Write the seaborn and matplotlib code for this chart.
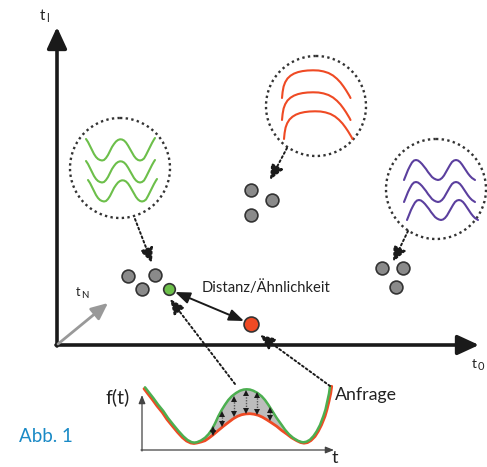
import numpy as np
import pandas as pd
import matplotlib
matplotlib.use("Agg")
import matplotlib.pyplot as plt
import matplotlib.patches as mpatches
import seaborn as sns

# diagram values, all in pixel units of the 487x467 picture
grey_dots_x = [128, 155, 142, 251, 272, 251, 382, 403, 396]
grey_dots_y = [276, 275, 289, 190, 200, 215, 268, 268, 287]
match_dot = (169, 289)
query_dot = (251, 324)

circle_centers = [(120, 168), (316, 106), (436, 189)]
circle_radius = 50

# wave icon shapes (relative to the start point of each line)
w_dx = [0, 2, 4, 6, 8, 10, 12, 14, 16, 18, 20, 22, 24, 26, 28, 30, 32, 34,
        36, 38, 40, 42, 44, 46, 48, 50, 52, 54, 56, 58, 60, 62, 64, 66, 68, 69]
w_dy = [0, 3, 7, 11, 15, 18, 20, 21, 21.5, 21, 19, 16, 12, 8, 5, 2.5, 1, 0.3,
        0.5, 1.5, 3.5, 6.5, 10, 13.5, 17, 19.5, 21, 21.5, 21, 19.5, 16, 12, 8, 4, 0.5, -1]
green_starts = [(86, 139), (86, 161), (88, 180)]

m_dx = [0, 2, 4, 6, 8, 10, 12, 14, 16, 18, 20, 22, 24, 26, 28, 30, 32, 34,
        36, 38, 40, 42, 44, 46, 48, 50, 52, 54, 56, 58, 60, 62, 64, 66, 68, 71]
m_dy = [0, -5, -10, -14, -17.5, -19.5, -20, -19.5, -18, -16, -13.5, -11, -8, -5.5,
        -3, -1.5, -0.5, 0, -0.5, -2, -4.5, -8, -11.5, -15, -18, -19.5, -20, -19.5,
        -18, -15.5, -12.5, -9.5, -6.5, -4, -2, 0]
purple_starts = [(404, 180), (404, 202), (407, 220)]

arc_dx = [0, 0.6, 1.6, 3.2, 5.5, 8.5, 12, 16, 20.5, 25.5, 31, 36.5, 41.5, 46.5,
          51, 55, 58.5, 61.5, 64, 66, 67.5, 68.5]
arc_dy = [0, -6, -11.5, -15.8, -19.5, -22.3, -24.4, -25.9, -26.9, -27.5, -27.7,
          -27.5, -26.6, -25, -22.5, -19.2, -15.5, -11.5, -7.8, -4.5, -2, 0]
red_starts = [(282, 98), (282, 120), (284, 139)]

dotted_from = [(135, 219), (287, 148), (408, 231), (235, 384), (330, 386)]
dotted_to = [(152, 263), (270, 180), (393, 262), (170, 299), (260, 335)]

# query curve (red) and best match (green) in the small plot
green_x = [145, 149, 153.3, 158, 163.3, 168, 173.3, 178.5, 183.3, 187.5,
           191.7, 194.5, 197, 201, 205, 208.5, 211.7, 215, 218.3, 221.7,
           225, 228.3, 231.7, 236, 240, 243.5, 246.7, 250, 253.3, 257.5,
           261.7, 265, 268.3, 272.5, 276.7, 281, 285, 289, 293.3, 298,
           301.5, 303.3, 306.5, 310, 313.5, 316.7, 320, 323.3, 325.5, 327.3,
           329, 330]
green_y = [387.3, 392.5, 398, 404.5, 411, 418, 424.7, 431, 436.3, 440,
           442.2, 442.6, 442.2, 440.5, 437.8, 434.2, 429.7, 423.5, 416.3, 410,
           404.7, 400, 396.3, 393, 390.7, 389.6, 389.3, 389.6, 390.7, 393,
           396.3, 400, 404.7, 411.3, 418, 424, 429.7, 434.3, 438, 440.8,
           442, 442.3, 441.7, 439.7, 436, 431.3, 425, 416.3, 409.5, 401.3,
           393.5, 386.3]
red_x = [144, 148, 152.3, 157, 162.3, 167, 172.3, 177.5, 182.3, 186.5,
         190.7, 194, 197, 201, 205, 209, 213.3, 218, 223.3, 228.5,
         233.3, 237.5, 241.7, 246, 250, 254, 258.3, 262.5, 266.7, 271.5,
         276.7, 281.5, 286.7, 291.5, 296.7, 300.5, 304, 307.5, 311, 315,
         318.3, 321.5, 325, 327, 329, 330.7, 331.7]
red_y = [388.7, 394, 399.5, 406, 412.5, 419.5, 426, 432.3, 437.5, 441,
         443, 443.5, 443, 442, 440.7, 438, 434.7, 430.7, 426.3, 422.3,
         418.7, 416.3, 414.7, 413.9, 413.7, 414.2, 415.3, 417.2, 419.7, 422.8,
         426.3, 430.3, 434, 437.7, 440.7, 442.5, 443.2, 442.6, 440.5, 436.5,
         431.3, 425, 416.3, 409.5, 401.3, 393.5, 386.3]

gap_x = [213.3, 221.7, 234.3, 246, 257.3, 270]
gap_top = [426.3, 411.3, 396.3, 390.7, 392, 407.3]
gap_bottom = [435.3, 426.3, 416.3, 413, 414.7, 420.7]

GREEN = "#6cbf4a"
RED = "#ef4a24"
PURPLE = "#5b3f9e"
DOT = (0, (1, 1.4))

sns.set_theme(style="white")
plt.rcParams["font.family"] = ["Lato", "DejaVu Sans"]

fig = plt.figure(figsize=(4.87, 4.67), dpi=100)
ax = fig.add_axes([0, 0, 1, 1])
ax.set_xlim(0, 487)
ax.set_ylim(467, 0)
ax.axis("off")


def arrow(a, b, color="k", lw=1.2, style="-|>", ls="-", hl=0.6, hw=0.3, scale=10):
    ax.annotate(
        "", xy=b, xytext=a,
        arrowprops=dict(
            arrowstyle=f"{style},head_length={hl},head_width={hw}",
            color=color, lw=lw, linestyle=ls, mutation_scale=scale,
            shrinkA=0, shrinkB=0,
        ),
    )


def curve(x, y, color, lw):
    sns.lineplot(x=x, y=y, ax=ax, sort=False, estimator=None, color=color,
                 lw=lw, solid_capstyle="round", solid_joinstyle="round")


# main axes
arrow((57, 346), (57, 27), lw=2.6, hl=1.3, hw=0.6)
arrow((56, 345), (479, 345), lw=2.6, hl=1.3, hw=0.6)
arrow((58, 344), (108, 303), color="#999999", lw=2.0, hl=1.0, hw=0.45)

ax.text(40, 20, "t", fontsize=11, color="#222222")
ax.text(46.5, 22, "l", fontsize=8, color="#222222")
ax.text(472, 368, "t", fontsize=10, color="#222222")
ax.text(478, 370, "0", fontsize=8, color="#222222")
ax.text(76, 296, "t", fontsize=9, color="#222222")
ax.text(81, 298, "N", fontsize=7, color="#222222")

# dotted circles with their waves
for cx, cy in circle_centers:
    ax.add_patch(mpatches.Circle((cx, cy), circle_radius, fill=False,
                                 ec="#333333", lw=1.7, ls=DOT))

for starts, dx, dy, col in [
    (green_starts, w_dx, w_dy, GREEN),
    (purple_starts, m_dx, m_dy, PURPLE),
    (red_starts, arc_dx, arc_dy, RED),
]:
    for sx, sy in starts:
        curve(np.add(dx, sx), np.add(dy, sy), col, 1.5)

# dotted arrows
for a, b in zip(dotted_from, dotted_to):
    arrow(a, b, lw=1.4, ls=DOT, hl=0.9, hw=0.4)

# distance arrow
arrow((175, 292), (244, 321), lw=1.4, style="<|-|>", hl=0.9, hw=0.35)
ax.text(202, 288, "Distanz/Ähnlichkeit", fontsize=10.6, color="#222222",
        va="center")

# points
sns.scatterplot(x=grey_dots_x, y=grey_dots_y, ax=ax, s=85, color="#8a8a8a",
                edgecolor="#333333", linewidth=1.2, zorder=5)
sns.scatterplot(x=[match_dot[0]], y=[match_dot[1]], ax=ax, s=70, color=GREEN,
                edgecolor="#333333", linewidth=1.2, zorder=5)
sns.scatterplot(x=[query_dot[0]], y=[query_dot[1]], ax=ax, s=115, color=RED,
                edgecolor="#333333", linewidth=1.2, zorder=5)

# small query plot
arrow((142, 451), (142, 395), color="#444444", lw=0.9, hl=0.5, hw=0.2)
arrow((141, 450), (334, 450), color="#444444", lw=0.9, hl=0.5, hw=0.2)

mid_g = [(x, y) for x, y in zip(green_x, green_y) if 196 <= x <= 305]
mid_r = [(x, y) for x, y in zip(red_x, red_y) if 196 <= x <= 305]
poly = mid_g + mid_r[::-1]
ax.fill([p[0] for p in poly], [p[1] for p in poly], color="#bdbdbd", zorder=1)

curve(red_x, red_y, RED, 2.0)
curve(green_x, green_y, "#4caf50", 1.8)

for gx, top, bot in zip(gap_x, gap_top, gap_bottom):
    ax.plot([gx, gx], [top + 3, bot - 3], color="#555555", lw=1.0, ls=(0, (1, 1)))
    ax.plot([gx], [top + 2.5], marker="^", ms=4, color="k", mew=0)
    ax.plot([gx], [bot - 2.5], marker="v", ms=4, color="k", mew=0)

ax.text(106, 397, "f(t)", fontsize=14, color="#222222", va="center")
ax.text(332, 458, "t", fontsize=13, color="#222222", va="center")
ax.text(335, 395, "Anfrage", fontsize=12.8, color="#222222", va="center")
ax.text(19, 437, "Abb. 1", fontsize=13.5, color="#1a8ac6", va="center")

fig.savefig("out.png", dpi=100)
